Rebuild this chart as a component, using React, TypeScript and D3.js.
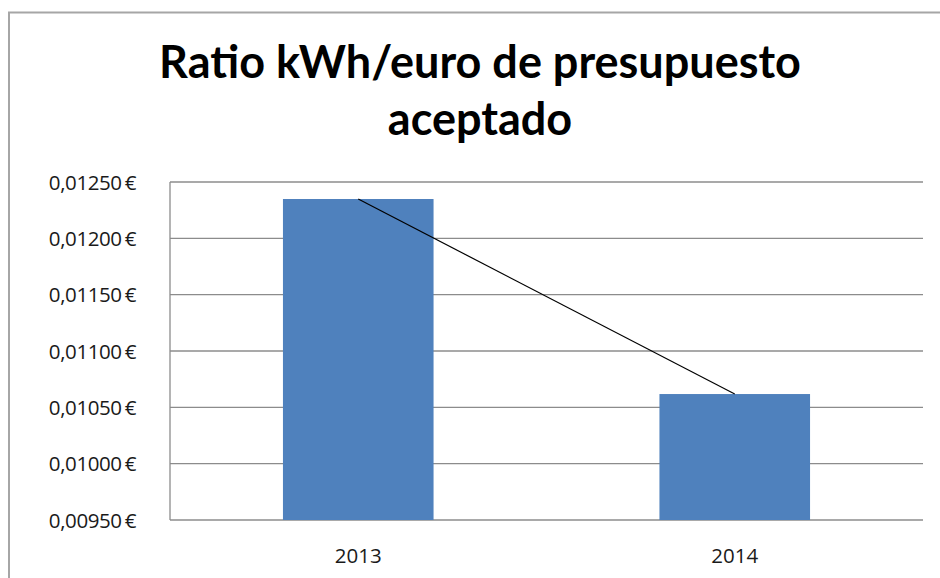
import React, { useEffect, useRef } from "react";
import * as d3 from "d3";

// data
const years = ["2013", "2014"];
const ratios = [0.012349, 0.010618];
const yTicks = [0.0095, 0.01, 0.0105, 0.011, 0.0115, 0.012, 0.0125];
const titleLines = ["Ratio kWh/euro de presupuesto", "aceptado"];

const W = 940;
const H = 578;

export default function App() {
  const ref = useRef<SVGSVGElement>(null);

  useEffect(() => {
    const svg = d3.select(ref.current);
    svg.selectAll("*").remove();

    const margin = { top: 182, right: 17, bottom: 58, left: 170 };
    const w = W - margin.left - margin.right;
    const h = H - margin.top - margin.bottom;

    // outer chart frame
    svg
      .append("path")
      .attr("d", `M9,${H + 2}V12.5H${W + 2}`)
      .attr("fill", "none")
      .attr("stroke", "#a6a6a6")
      .attr("stroke-width", 2);

    // title
    svg
      .append("g")
      .selectAll("text")
      .data(titleLines)
      .enter()
      .append("text")
      .attr("x", 480)
      .attr("y", (d: any, i: number) => 78 + i * 57)
      .attr("text-anchor", "middle")
      .attr("font-family", "Lato, 'Open Sans', sans-serif")
      .attr("font-weight", "bold")
      .attr("font-size", 45)
      .attr("fill", "#000")
      .text((d: any) => d);

    const g = svg
      .append("g")
      .attr("transform", `translate(${margin.left}, ${margin.top})`);

    const x = d3.scaleBand().domain(years).range([0, w]).padding(0);
    const y = d3.scaleLinear().domain([0.0095, 0.0125]).range([h, 0]);

    // gridlines
    g.selectAll(".grid")
      .data(yTicks)
      .enter()
      .append("line")
      .attr("class", "grid")
      .attr("x1", 0)
      .attr("x2", w)
      .attr("y1", (d: any) => y(d))
      .attr("y2", (d: any) => y(d))
      .attr("stroke", "#8c8c8c")
      .attr("stroke-width", 1.3);

    // left axis line
    g.append("line")
      .attr("x1", 0)
      .attr("x2", 0)
      .attr("y1", 0)
      .attr("y2", h)
      .attr("stroke", "#8c8c8c")
      .attr("stroke-width", 1.3);

    // y labels
    const fmt = (v: number) => v.toFixed(5).replace(".", ",") + "\u2009€";
    g.selectAll(".ylab")
      .data(yTicks)
      .enter()
      .append("text")
      .attr("class", "ylab")
      .attr("x", -34)
      .attr("y", (d: any) => y(d) + 7.5)
      .attr("text-anchor", "end")
      .attr("font-family", "'Open Sans', sans-serif")
      .attr("font-size", 20.5)
      .attr("letter-spacing", -0.4)
      .attr("fill", "#1a1a1a")
      .text((d: any) => fmt(d));

    // bars
    const barW = x.bandwidth() * 0.4;
    g.selectAll(".bar")
      .data(ratios)
      .enter()
      .append("rect")
      .attr("class", "bar")
      .attr("x", (d: any, i: number) => x(years[i])! + (x.bandwidth() - barW) / 2)
      .attr("y", (d: any) => y(d))
      .attr("width", barW)
      .attr("height", (d: any) => h - y(d))
      .attr("fill", "#4f81bd");

    // trend line across the bar tops
    const line = d3
      .line<number>()
      .x((d, i) => x(years[i])! + x.bandwidth() / 2)
      .y((d) => y(d));
    g.append("path")
      .datum(ratios)
      .attr("d", line)
      .attr("fill", "none")
      .attr("stroke", "#000")
      .attr("stroke-width", 1.2);

    // x labels
    g.selectAll(".xlab")
      .data(years)
      .enter()
      .append("text")
      .attr("class", "xlab")
      .attr("x", (d: any) => x(d)! + x.bandwidth() / 2)
      .attr("y", h + 43)
      .attr("text-anchor", "middle")
      .attr("font-family", "'Open Sans', sans-serif")
      .attr("font-size", 20.5)
      .attr("fill", "#1a1a1a")
      .text((d: any) => d);
  }, []);

  return (
    <div>
      <svg
        ref={ref}
        width={W}
        height={H}
        style={{ position: "absolute", left: 0, top: 0, background: "#fff" }}
      />
    </div>
  );
}
